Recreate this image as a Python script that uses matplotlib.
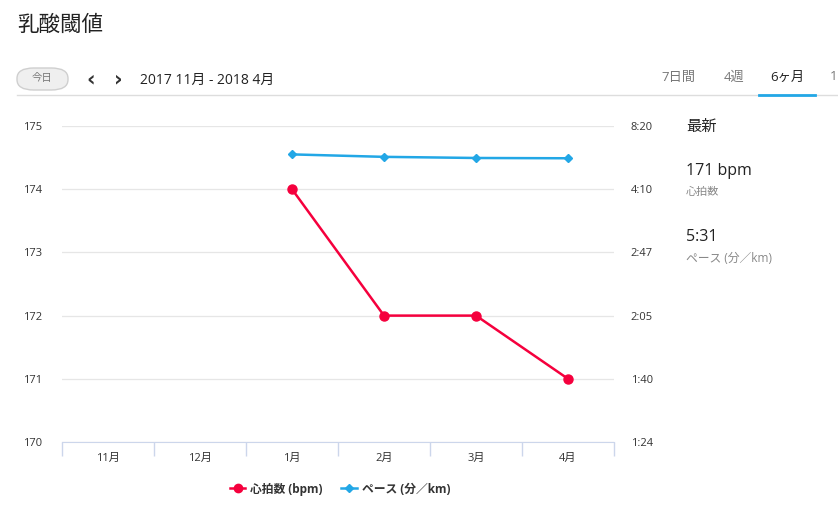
import matplotlib
matplotlib.use("Agg")
import matplotlib.pyplot as plt
from matplotlib.lines import Line2D
from matplotlib.patches import FancyBboxPatch

plt.rcParams["font.family"] = ["Open Sans", "Noto Sans CJK JP", "DejaVu Sans"]

# data
months = ["11月", "12月", "1月", "2月", "3月", "4月"]
hr_months = ["1月", "2月", "3月", "4月"]
heart_rate = [174, 172, 172, 171]
pace_months = ["1月", "2月", "3月", "4月"]
pace_seconds = [345, 336, 332, 331]  # sec per km
hr_ticks = [170, 171, 172, 173, 174, 175]
speed_ticks = [12, 10, 8, 6, 4, 2]
pace_tick_labels = ["1:24", "1:40", "2:05", "2:47", "4:10", "8:20"]

RED = "#f5003d"
BLUE = "#22a7e6"
INK = "#333333"
GRID = "#e6e6e6"
AXIS = "#ccd6eb"

W, H = 838, 516
fig = plt.figure(figsize=(W / 100, H / 100), dpi=100)


def fx(px):
    return px / W


def fy(py):
    return 1 - py / H


ax = fig.add_axes([fx(62), fy(442), fx(614) - fx(62), fy(126) - fy(442)])
ax2 = ax.twinx()

xpos = {m: i for i, m in enumerate(months)}
ax.set_xlim(-0.5, len(months) - 0.5)
ax.set_ylim(170, 175)
ax.set_yticks(hr_ticks)
ax.set_yticklabels([str(t) for t in hr_ticks], fontsize=8, color=INK)
ax.set_xticks(range(len(months)))
ax.set_xticklabels(months, fontsize=8, color=INK)
ax.tick_params(axis="x", length=0, pad=8)
ax.tick_params(axis="y", length=0, pad=14)
ax.set_xticks([i - 0.5 for i in range(len(months) + 1)], minor=True)
ax.tick_params(axis="x", which="minor", length=10, color=AXIS, width=1)
ax.grid(axis="y", color=GRID, linewidth=0.9)
ax.set_axisbelow(True)
for s in ("top", "right", "left"):
    ax.spines[s].set_visible(False)
ax.spines["bottom"].set_color(AXIS)
for s in ax2.spines.values():
    s.set_visible(False)

ax.plot([xpos[m] for m in hr_months], heart_rate, color=RED, linewidth=1.8,
        marker="o", markersize=6.5, zorder=4)

speed = [1000 / p for p in pace_seconds]
ax2.set_ylim(12, 2)
ax2.set_yticks(speed_ticks)
ax2.set_yticklabels(pace_tick_labels, fontsize=8, color=INK)
ax2.tick_params(axis="y", length=0, pad=12)
ax2.plot([xpos[m] for m in pace_months], speed, color=BLUE, linewidth=1.8,
         marker="D", markersize=4.5, zorder=4)

# header
fig.text(fx(17), fy(25), "乳酸閾値", fontsize=15.5, color="#222222", va="center")
btn = FancyBboxPatch((fx(17), fy(90)), fx(68) - fx(17), fy(68) - fy(90),
                     boxstyle="round,pad=0,rounding_size=0.02",
                     transform=fig.transFigure, facecolor="#efefef",
                     edgecolor="#cfcfcf", linewidth=1)
fig.patches.append(btn)
fig.text(fx(42), fy(78), "今日", fontsize=7.5, color="#777777", ha="center", va="center")
fig.text(fx(91), fy(79), "‹", fontsize=15, color="#333333", ha="center", va="center",
         fontweight="bold", family="DejaVu Sans")
fig.text(fx(118), fy(79), "›", fontsize=15, color="#333333", ha="center", va="center",
         fontweight="bold", family="DejaVu Sans")
fig.text(fx(140), fy(80), "2017 11月 - 2018 4月", fontsize=10, color="#222222", va="center")
fig.add_artist(Line2D([fx(17), 1], [fy(95), fy(95)], color="#dddddd", linewidth=1))
fig.text(fx(678), fy(77), "7日間", fontsize=9.5, color="#777777", ha="center", va="center")
fig.text(fx(734), fy(77), "4週", fontsize=9.5, color="#777777", ha="center", va="center")
fig.text(fx(787), fy(77), "6ヶ月", fontsize=9.5, color="#222222", ha="center", va="center")
fig.text(fx(830), fy(77), "1", fontsize=9.5, color="#777777", ha="left", va="center")
fig.add_artist(Line2D([fx(759), fx(815)], [fy(95), fy(95)], color=BLUE, linewidth=2))

# latest panel
fig.text(fx(686), fy(127), "最新", fontsize=11, color="#222222", va="center")
fig.text(fx(686), fy(171), "171 bpm", fontsize=11.5, color="#222222", va="center")
fig.text(fx(686), fy(192), "心拍数", fontsize=8, color="#888888", va="center")
fig.text(fx(686), fy(237), "5:31", fontsize=11.5, color="#222222", va="center")
fig.text(fx(686), fy(258), "ペース (分／km)", fontsize=8.5, color="#888888", va="center")

# legend
handles = [
    Line2D([], [], color=RED, marker="o", markersize=6, linewidth=1.8),
    Line2D([], [], color=BLUE, marker="D", markersize=4, linewidth=1.8),
]
leg = fig.legend(handles, ["心拍数 (bpm)", "ペース (分／km)"], loc="center",
                 bbox_to_anchor=(fx(340), fy(489)), ncol=2, frameon=False,
                 fontsize=8.5, handlelength=1.3, handletextpad=0.4, columnspacing=1.6)
for t in leg.get_texts():
    t.set_color(INK)
    t.set_fontweight("bold")

fig.savefig("out.png", dpi=100)
